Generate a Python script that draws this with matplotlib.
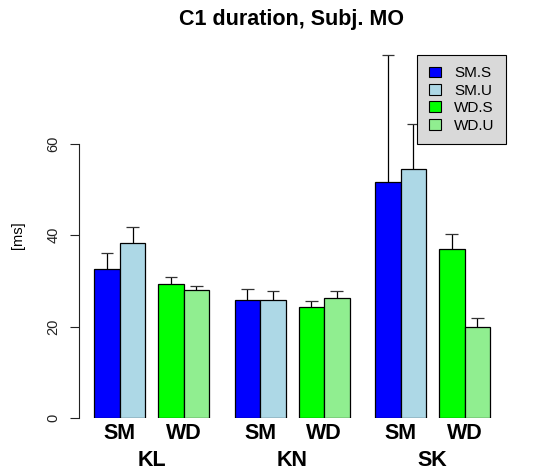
import matplotlib
matplotlib.use("Agg")
import matplotlib.pyplot as plt
import numpy as np
from matplotlib.patches import Patch

plt.rcParams["font.family"] = ["Liberation Sans", "DejaVu Sans"]

groups = ["KL", "KN", "SK"]
series = ["SM.S", "SM.U", "WD.S", "WD.U"]
pair_labels = ["SM", "WD"]
colors = ["#0000FF", "#ADD8E6", "#00FF00", "#90EE90"]

# means and upper error (mean + sd) per group, ordered as series
means = {
    "KL": [32.7, 38.4, 29.4, 28.0],
    "KN": [25.9, 25.9, 24.3, 26.3],
    "SK": [51.6, 54.5, 37.1, 19.9],
}
upper = {
    "KL": [36.2, 41.9, 30.9, 29.0],
    "KN": [28.2, 27.7, 25.7, 27.7],
    "SK": [79.4, 64.3, 40.2, 22.0],
}

# bar layout in units of bar width: pairs touching, half gap between pairs, full gap between groups
offsets = np.array([0.0, 1.0, 2.5, 3.5])
group_step = 5.5

fig = plt.figure(figsize=(5.41, 4.74), dpi=100)
ax = fig.add_axes([0.146, 0.1181, 0.807, 0.7711])

for g, grp in enumerate(groups):
    lefts = offsets + g * group_step
    ax.bar(lefts, means[grp], width=1.0, align="edge", color=colors,
           edgecolor="black", linewidth=0.9, zorder=2)
    centers = lefts + 0.5
    ax.vlines(centers, means[grp], upper[grp], color="black", linewidth=0.9, zorder=3)
    ax.hlines(upper[grp], centers - 0.25, centers + 0.25, color="#333333",
              linewidth=0.9, zorder=3)
    # pair labels and group label
    for k, lab in enumerate(pair_labels):
        cx = g * group_step + offsets[2 * k] + 1.0
        ax.text(cx, -3.4, lab, ha="center", va="center", fontsize=15.5,
                fontweight="bold")
    ax.text(g * group_step + 2.25, -9.3, grp, ha="center", va="center",
            fontsize=15.5, fontweight="bold")

ax.set_xlim(-0.6, 16.5)
ax.set_ylim(0, 80)
ax.set_xticks([])
ax.set_yticks([0, 20, 40, 60])
ax.tick_params(axis="y", length=6.5, width=0.8, pad=7, labelsize=10.5, colors="#222222")
for lab in ax.get_yticklabels():
    lab.set_rotation(90)
    lab.set_va("center")
for s in ["top", "right", "bottom"]:
    ax.spines[s].set_visible(False)
ax.spines["left"].set_bounds(0, 60)
ax.spines["left"].set_linewidth(0.8)
ax.spines["left"].set_color("#222222")
ax.set_ylabel("[ms]", fontsize=10.5, labelpad=15)

fig.text(291.5 / 541, 1 - 20 / 474, "C1 duration, Subj. MO", ha="center",
         va="center", fontsize=15.5, fontweight="bold")

handles = [Patch(facecolor=c, edgecolor="black", linewidth=0.8) for c in colors]
leg = ax.legend(handles, series, loc="upper right", bbox_to_anchor=(506 / 541, 1 - 55 / 474),
                bbox_transform=fig.transFigure, fontsize=11, frameon=True, fancybox=False,
                handlelength=0.8, handleheight=0.7, handletextpad=0.85,
                labelspacing=0.22, borderpad=0.75, borderaxespad=0)
leg.get_frame().set_facecolor("#D9D9D9")
leg.get_frame().set_edgecolor("black")
leg.get_frame().set_linewidth(0.8)
leg.get_frame().set_alpha(1)

fig.savefig("out.png", dpi=100)
